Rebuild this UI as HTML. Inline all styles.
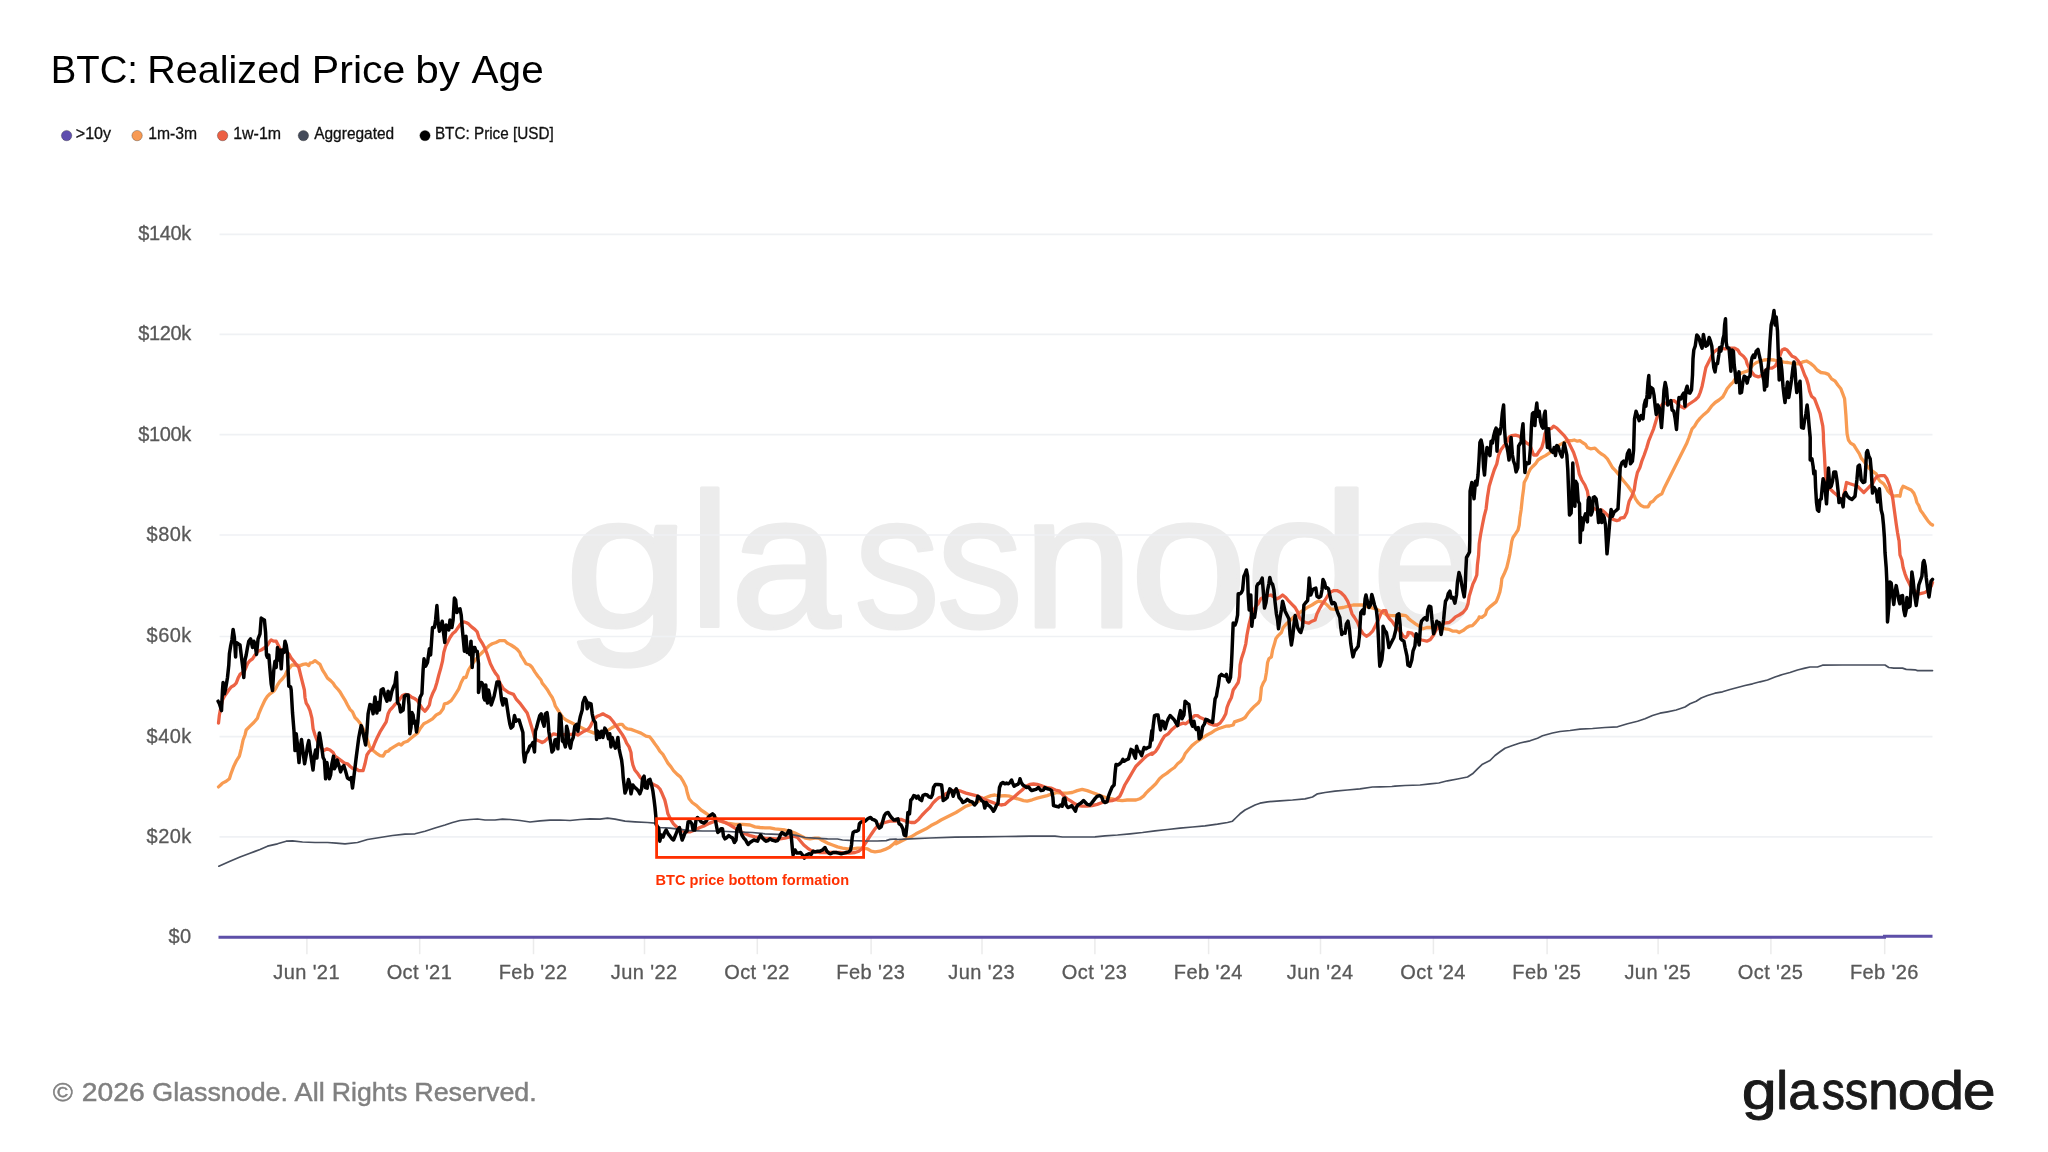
<!DOCTYPE html>
<html lang="en"><head><meta charset="utf-8"><title>BTC: Realized Price by Age</title>
<style>html,body{margin:0;padding:0;background:#fff;}body{width:2048px;height:1152px;overflow:hidden;}svg{display:block;will-change:transform;}</style></head>
<body>
<svg width="2048" height="1152" viewBox="0 0 2048 1152">
<rect width="2048" height="1152" fill="#ffffff"/>
<text y="627.00" font-family="'Liberation Sans',sans-serif" font-size="192.00" fill="#ececec" stroke="#ececec" stroke-width="3.20" stroke-linejoin="round"><tspan x="564.39" textLength="125.81" lengthAdjust="spacingAndGlyphs">g</tspan><tspan x="688.99" textLength="41.43" lengthAdjust="spacingAndGlyphs">l</tspan><tspan x="730.24" textLength="110.11" lengthAdjust="spacingAndGlyphs">a</tspan><tspan x="854.16" textLength="85.60" lengthAdjust="spacingAndGlyphs">s</tspan><tspan x="936.64" textLength="86.15" lengthAdjust="spacingAndGlyphs">s</tspan><tspan x="1022.64" textLength="111.17" lengthAdjust="spacingAndGlyphs">n</tspan><tspan x="1129.87" textLength="117.75" lengthAdjust="spacingAndGlyphs">o</tspan><tspan x="1244.78" textLength="127.48" lengthAdjust="spacingAndGlyphs">d</tspan><tspan x="1372.04" textLength="106.90" lengthAdjust="spacingAndGlyphs">e</tspan></text>
<line x1="219.5" x2="1932.5" y1="234.4" y2="234.4" stroke="#eff1f4" stroke-width="1.6"/>
<line x1="219.5" x2="1932.5" y1="334.4" y2="334.4" stroke="#eff1f4" stroke-width="1.6"/>
<line x1="219.5" x2="1932.5" y1="434.6" y2="434.6" stroke="#eff1f4" stroke-width="1.6"/>
<line x1="219.5" x2="1932.5" y1="535.0" y2="535.0" stroke="#eff1f4" stroke-width="1.6"/>
<line x1="219.5" x2="1932.5" y1="636.5" y2="636.5" stroke="#eff1f4" stroke-width="1.6"/>
<line x1="219.5" x2="1932.5" y1="736.6" y2="736.6" stroke="#eff1f4" stroke-width="1.6"/>
<line x1="219.5" x2="1932.5" y1="836.9" y2="836.9" stroke="#eff1f4" stroke-width="1.6"/>
<line x1="306.9" x2="306.9" y1="938" y2="954.2" stroke="#ebebeb" stroke-width="1.5"/>
<line x1="419.7" x2="419.7" y1="938" y2="954.2" stroke="#ebebeb" stroke-width="1.5"/>
<line x1="533.5" x2="533.5" y1="938" y2="954.2" stroke="#ebebeb" stroke-width="1.5"/>
<line x1="644.5" x2="644.5" y1="938" y2="954.2" stroke="#ebebeb" stroke-width="1.5"/>
<line x1="757.3" x2="757.3" y1="938" y2="954.2" stroke="#ebebeb" stroke-width="1.5"/>
<line x1="871.1" x2="871.1" y1="938" y2="954.2" stroke="#ebebeb" stroke-width="1.5"/>
<line x1="982.0" x2="982.0" y1="938" y2="954.2" stroke="#ebebeb" stroke-width="1.5"/>
<line x1="1094.9" x2="1094.9" y1="938" y2="954.2" stroke="#ebebeb" stroke-width="1.5"/>
<line x1="1208.6" x2="1208.6" y1="938" y2="954.2" stroke="#ebebeb" stroke-width="1.5"/>
<line x1="1320.5" x2="1320.5" y1="938" y2="954.2" stroke="#ebebeb" stroke-width="1.5"/>
<line x1="1433.4" x2="1433.4" y1="938" y2="954.2" stroke="#ebebeb" stroke-width="1.5"/>
<line x1="1547.1" x2="1547.1" y1="938" y2="954.2" stroke="#ebebeb" stroke-width="1.5"/>
<line x1="1658.1" x2="1658.1" y1="938" y2="954.2" stroke="#ebebeb" stroke-width="1.5"/>
<line x1="1770.9" x2="1770.9" y1="938" y2="954.2" stroke="#ebebeb" stroke-width="1.5"/>
<line x1="1884.7" x2="1884.7" y1="938" y2="954.2" stroke="#ebebeb" stroke-width="1.5"/>
<g font-family="'Liberation Sans',sans-serif" font-size="20" fill="#595959" stroke="#595959" stroke-width="0.3" text-anchor="end" letter-spacing="-0.4">
<text x="190.8" y="240.3" letter-spacing="-0.4">$140k</text>
<text x="190.8" y="340.3" letter-spacing="-0.4">$120k</text>
<text x="190.8" y="440.5" letter-spacing="-0.4">$100k</text>
<text x="191.6" y="540.9" letter-spacing="0.4">$80k</text>
<text x="191.6" y="642.4" letter-spacing="0.4">$60k</text>
<text x="191.6" y="742.5" letter-spacing="0.4">$40k</text>
<text x="191.6" y="842.8" letter-spacing="0.4">$20k</text>
<text x="191.6" y="943.1" letter-spacing="0.4">$0</text>
</g>
<g font-family="'Liberation Sans',sans-serif" font-size="20" fill="#595959" stroke="#595959" stroke-width="0.3" text-anchor="middle" letter-spacing="0.4">
<text x="306.6" y="979.2">Jun '21</text>
<text x="419.4" y="979.2">Oct '21</text>
<text x="533.2" y="979.2">Feb '22</text>
<text x="644.2" y="979.2">Jun '22</text>
<text x="757.0" y="979.2">Oct '22</text>
<text x="870.8" y="979.2">Feb '23</text>
<text x="981.7" y="979.2">Jun '23</text>
<text x="1094.6" y="979.2">Oct '23</text>
<text x="1208.3" y="979.2">Feb '24</text>
<text x="1320.2" y="979.2">Jun '24</text>
<text x="1433.1" y="979.2">Oct '24</text>
<text x="1546.8" y="979.2">Feb '25</text>
<text x="1657.8" y="979.2">Jun '25</text>
<text x="1770.6" y="979.2">Oct '25</text>
<text x="1884.4" y="979.2">Feb '26</text>
</g>
<path d="M218.5 937.3 H1884.5 V936.2 H1932.5" fill="none" stroke="#5d4fa8" stroke-width="3"/>
<path d="M218.5 786.9 L220.6 785.0 L222.5 783.1 L226.2 781.2 L229.4 778.8 L231.2 773.1 L233.8 766.2 L236.2 761.2 L239.4 756.2 L241.2 748.8 L243.1 740.0 L245.0 735.0 L246.2 730.0 L250.0 726.2 L253.8 722.5 L257.5 718.1 L258.8 713.8 L261.2 708.1 L263.8 702.5 L265.0 700.0 L267.5 696.2 L270.0 693.8 L273.8 691.2 L275.6 688.8 L277.5 685.0 L280.0 681.2 L282.5 678.8 L285.0 675.6 L286.9 671.2 L290.0 667.5 L291.9 665.0 L295.0 665.0 L300.0 665.6 L303.1 664.4 L306.2 663.8 L308.8 665.6 L310.0 663.1 L312.5 662.5 L315.0 660.6 L317.5 662.5 L320.0 664.4 L322.5 670.0 L325.0 673.8 L327.5 678.1 L330.6 680.6 L333.1 683.1 L335.0 686.2 L337.5 688.8 L340.0 691.9 L342.5 696.2 L345.6 701.2 L347.5 705.0 L350.0 709.4 L352.5 711.9 L355.0 717.5 L357.5 720.0 L360.0 723.1 L362.5 727.5 L365.0 732.5 L367.5 740.0 L369.4 746.2 L372.5 750.0 L376.2 753.1 L380.0 755.6 L383.1 756.2 L385.6 751.9 L388.1 751.2 L390.6 748.8 L395.0 746.2 L398.8 743.8 L401.2 745.0 L403.8 742.5 L407.5 741.2 L411.2 738.1 L415.0 735.0 L417.5 733.1 L420.0 728.8 L423.8 723.8 L427.5 721.9 L432.5 718.8 L436.2 715.0 L440.0 713.1 L443.1 708.8 L444.4 703.8 L447.5 703.1 L451.2 700.6 L453.8 696.9 L456.2 693.1 L458.8 688.8 L461.2 682.5 L463.8 677.5 L466.0 677.5 L468.5 670.0 L471.6 665.0 L474.8 660.6 L478.5 656.2 L482.2 652.5 L486.0 648.8 L489.1 645.6 L492.2 643.8 L496.0 642.5 L499.8 640.6 L504.8 640.6 L507.2 643.1 L511.0 645.0 L514.8 647.5 L517.2 649.4 L519.8 652.5 L521.0 655.6 L523.5 659.4 L526.0 663.8 L529.8 665.0 L532.2 667.5 L534.8 671.9 L537.9 676.2 L541.0 680.0 L542.2 683.1 L544.8 686.2 L547.2 689.4 L549.8 693.8 L552.2 697.5 L554.1 701.9 L555.4 706.2 L557.9 710.0 L560.4 713.8 L562.9 717.5 L566.0 720.0 L571.0 722.5 L576.0 725.0 L581.0 727.5 L586.0 730.0 L591.0 731.9 L594.1 733.1 L601.0 732.5 L608.5 730.0 L612.2 727.5 L616.0 725.6 L619.8 724.4 L622.2 724.4 L624.8 727.5 L627.2 728.8 L631.0 729.4 L636.0 731.2 L641.0 733.1 L646.0 736.2 L649.8 736.9 L652.2 740.0 L654.8 743.8 L657.2 746.9 L659.8 751.2 L662.9 754.4 L665.4 758.8 L667.9 763.1 L671.0 766.9 L673.5 770.6 L677.2 774.4 L680.4 776.9 L683.5 781.9 L686.0 786.9 L687.2 792.5 L689.1 798.8 L692.2 802.5 L696.6 805.6 L701.0 810.0 L704.8 812.5 L708.5 815.0 L711.6 815.6 L714.8 816.9 L720.0 821.2 L727.5 823.1 L735.0 824.4 L742.5 824.4 L750.0 825.0 L755.0 826.9 L760.0 827.5 L765.0 827.8 L770.0 827.8 L775.0 828.8 L780.0 829.4 L785.0 830.0 L790.0 831.2 L795.0 833.1 L800.0 835.6 L805.0 838.1 L810.0 838.8 L815.0 838.1 L818.8 838.1 L822.5 840.6 L827.5 843.1 L832.5 845.0 L837.5 846.9 L842.5 848.1 L847.5 848.8 L852.5 848.8 L857.5 848.1 L862.5 848.1 L867.5 848.8 L871.2 851.2 L875.0 851.9 L880.0 851.2 L885.0 849.4 L890.0 846.9 L893.8 843.8 L896.0 841.2 L896.0 843.8 L901.0 841.2 L906.0 838.8 L911.0 836.9 L916.0 833.8 L921.0 831.2 L926.0 828.8 L931.0 825.6 L936.0 823.1 L941.0 820.0 L946.0 817.5 L951.0 815.0 L956.0 812.5 L961.0 809.4 L966.0 806.2 L971.0 804.4 L976.0 802.5 L981.0 800.0 L986.0 797.5 L991.0 795.6 L994.8 795.0 L999.8 796.0 L1004.8 795.6 L1009.8 796.2 L1014.8 798.1 L1019.8 799.4 L1023.5 800.6 L1027.2 801.2 L1032.2 799.8 L1037.2 798.1 L1042.2 796.9 L1047.2 795.6 L1052.2 793.8 L1057.2 792.5 L1062.2 793.1 L1067.2 793.1 L1072.2 792.5 L1077.2 790.6 L1082.2 789.4 L1087.2 790.6 L1092.2 792.5 L1097.2 794.4 L1102.2 796.2 L1107.2 798.1 L1112.2 798.8 L1117.2 800.0 L1122.2 800.6 L1127.2 800.0 L1132.2 799.8 L1136.0 800.0 L1139.8 798.8 L1143.5 796.2 L1146.0 793.1 L1149.1 790.0 L1151.9 787.5 L1155.8 783.8 L1159.5 778.8 L1163.2 775.6 L1167.0 773.1 L1170.8 770.0 L1174.5 767.5 L1177.6 763.8 L1180.8 761.2 L1183.2 758.1 L1185.1 753.8 L1188.2 750.0 L1192.0 745.6 L1195.8 742.5 L1199.5 740.0 L1203.2 737.5 L1207.0 735.0 L1210.8 733.1 L1214.5 730.6 L1218.2 728.8 L1222.0 727.5 L1225.8 726.2 L1229.5 726.0 L1233.2 725.0 L1234.5 721.9 L1238.2 720.6 L1242.0 719.4 L1245.1 717.5 L1247.6 713.8 L1250.8 710.0 L1254.5 706.2 L1258.2 703.1 L1260.1 700.0 L1260.8 693.8 L1261.4 687.5 L1263.2 683.1 L1265.1 680.0 L1266.4 672.5 L1267.6 662.5 L1268.9 658.8 L1271.4 656.9 L1272.6 650.0 L1274.5 643.8 L1275.8 638.8 L1278.2 635.6 L1281.4 632.5 L1283.2 627.5 L1286.4 623.8 L1289.5 621.2 L1293.2 617.5 L1297.0 615.0 L1300.8 611.9 L1304.5 609.4 L1308.2 606.9 L1312.0 605.0 L1315.8 602.5 L1318.2 601.2 L1322.0 601.9 L1325.8 603.8 L1328.2 606.2 L1330.8 608.8 L1334.5 609.4 L1338.2 608.1 L1343.2 607.5 L1348.2 606.2 L1353.2 605.0 L1358.2 605.0 L1363.2 605.0 L1368.2 606.9 L1373.2 608.1 L1378.2 610.0 L1383.2 612.5 L1387.0 615.0 L1390.8 615.6 L1395.8 615.6 L1400.8 615.0 L1405.8 615.6 L1407.9 617.5 L1408.0 618.1 L1411.8 621.2 L1415.5 623.8 L1419.2 626.2 L1423.0 628.8 L1426.8 627.5 L1431.8 627.5 L1436.8 628.1 L1441.8 628.1 L1445.5 628.8 L1449.2 629.4 L1453.0 631.2 L1456.8 631.2 L1459.2 632.5 L1463.0 630.6 L1466.8 627.5 L1469.2 626.2 L1472.4 625.6 L1475.5 622.5 L1478.6 618.8 L1479.2 616.9 L1481.8 617.5 L1485.5 614.4 L1486.8 610.0 L1489.9 606.9 L1493.0 604.4 L1496.1 601.9 L1498.0 597.5 L1499.9 591.9 L1501.1 585.6 L1501.8 578.8 L1504.2 573.8 L1506.8 567.5 L1508.6 560.0 L1509.9 553.8 L1511.8 541.2 L1513.0 537.5 L1515.5 533.8 L1518.0 530.0 L1519.2 525.0 L1519.9 517.5 L1521.1 510.0 L1522.4 497.5 L1523.6 488.8 L1524.2 482.5 L1526.8 477.5 L1528.6 472.5 L1530.5 468.8 L1533.0 466.2 L1535.5 463.8 L1538.0 460.0 L1541.8 457.5 L1545.5 455.6 L1549.2 453.1 L1553.0 450.0 L1556.8 446.9 L1560.5 444.4 L1564.2 442.5 L1568.0 440.6 L1571.8 440.6 L1574.2 440.0 L1577.4 441.2 L1579.9 440.6 L1582.4 442.5 L1585.5 444.4 L1587.4 447.5 L1590.5 448.8 L1594.9 448.1 L1598.0 451.2 L1601.1 453.8 L1604.2 455.6 L1607.4 458.8 L1609.9 463.1 L1612.4 467.5 L1615.5 470.6 L1618.6 474.4 L1621.8 478.8 L1624.9 482.5 L1628.0 486.2 L1631.1 490.6 L1633.6 494.4 L1635.5 498.8 L1638.0 502.5 L1641.1 505.6 L1644.2 506.9 L1648.0 506.9 L1650.5 502.5 L1653.0 501.2 L1656.1 497.5 L1658.6 495.6 L1661.8 493.8 L1663.9 488.8 L1686.5 443.8 L1689.0 437.5 L1692.1 428.8 L1694.6 426.2 L1697.1 421.9 L1700.2 418.1 L1704.0 414.4 L1707.8 411.2 L1711.5 406.2 L1715.2 402.5 L1719.0 400.0 L1722.8 396.9 L1725.2 392.5 L1727.1 388.8 L1730.2 385.0 L1733.4 381.9 L1735.9 377.5 L1739.0 374.4 L1742.8 372.5 L1747.1 371.2 L1750.2 368.8 L1752.8 365.0 L1756.5 362.5 L1760.2 361.2 L1764.0 360.0 L1769.0 359.6 L1774.0 360.0 L1779.0 361.2 L1784.0 362.2 L1787.8 362.5 L1792.8 363.5 L1799.0 363.8 L1802.8 361.9 L1806.5 361.0 L1810.2 363.1 L1814.0 366.2 L1817.1 370.0 L1820.9 372.5 L1825.2 373.1 L1828.4 374.4 L1831.5 378.8 L1835.2 381.2 L1837.8 385.0 L1840.9 388.8 L1842.8 393.8 L1844.6 398.8 L1845.2 406.2 L1845.9 415.0 L1846.5 425.0 L1847.1 433.8 L1848.4 440.0 L1850.6 443.1 L1853.8 445.0 L1856.2 448.8 L1859.4 453.8 L1861.2 458.1 L1863.8 461.2 L1866.2 464.4 L1868.8 468.1 L1872.5 471.2 L1876.2 473.8 L1877.5 477.5 L1880.0 481.2 L1883.8 483.8 L1886.2 487.5 L1888.1 491.2 L1890.6 493.8 L1893.8 496.2 L1897.5 495.6 L1900.0 496.2 L1901.2 490.0 L1903.1 486.2 L1906.9 488.1 L1911.2 490.0 L1913.8 493.1 L1915.6 497.5 L1916.9 502.5 L1918.8 505.6 L1920.6 510.6 L1923.1 513.8 L1925.6 517.5 L1928.1 521.2 L1930.6 523.8 L1932.5 525.0" fill="none" stroke="#f89b52" stroke-width="3.3" stroke-linejoin="round" stroke-linecap="round"/>
<path d="M218.5 723.1 L219.4 715.0 L220.6 708.8 L222.5 700.0 L224.4 696.2 L226.2 693.8 L228.8 690.0 L231.2 686.9 L233.8 685.6 L236.2 683.1 L238.1 678.1 L240.0 674.4 L242.5 672.5 L245.0 670.0 L247.5 663.8 L250.0 660.6 L252.5 658.8 L255.0 655.0 L258.1 651.2 L261.2 650.0 L265.0 647.5 L267.5 645.0 L270.0 641.2 L271.2 640.0 L273.8 641.2 L276.2 641.2 L278.1 645.0 L280.0 648.8 L285.0 651.2 L288.8 653.8 L291.2 658.1 L293.8 661.2 L296.2 664.4 L298.8 667.5 L300.6 675.0 L302.5 682.5 L304.4 690.0 L305.0 697.5 L306.2 703.1 L308.1 706.2 L310.0 710.6 L311.9 718.1 L313.1 728.8 L315.0 735.0 L316.9 740.0 L320.0 746.2 L323.8 750.6 L326.9 748.8 L330.0 750.0 L333.1 752.5 L335.0 756.2 L338.8 758.8 L341.2 760.6 L344.4 763.1 L347.5 763.8 L350.0 766.2 L353.1 768.8 L356.2 768.8 L358.8 770.6 L363.1 770.6 L365.0 763.8 L366.9 755.0 L369.4 751.2 L372.5 748.8 L375.0 742.5 L377.5 736.9 L380.0 731.9 L383.1 726.9 L386.2 721.9 L388.1 713.8 L390.0 710.0 L392.5 707.5 L395.0 704.4 L397.5 702.5 L400.0 698.8 L402.5 695.6 L405.0 694.4 L408.8 695.0 L411.2 696.9 L415.0 698.8 L417.5 700.6 L420.0 705.0 L422.5 708.8 L425.0 711.2 L427.5 708.1 L429.4 705.0 L430.6 698.8 L432.5 693.8 L435.0 688.8 L436.9 682.5 L438.8 675.0 L440.6 668.8 L442.5 661.2 L443.8 652.5 L445.6 646.2 L447.5 642.5 L450.0 637.5 L452.5 633.8 L455.6 631.2 L458.1 627.5 L460.6 623.8 L463.8 621.9 L466.0 622.5 L468.5 623.8 L471.6 626.9 L474.8 629.4 L477.2 631.9 L479.1 638.1 L482.2 643.1 L484.8 648.1 L486.6 652.5 L488.5 658.1 L490.4 663.8 L492.9 668.8 L495.4 673.1 L497.9 676.2 L499.1 681.2 L501.0 685.0 L503.5 688.8 L508.5 692.5 L513.5 694.4 L516.0 698.8 L519.8 703.1 L523.5 708.1 L527.2 713.1 L529.1 718.8 L531.0 725.0 L532.9 731.2 L534.5 737.5 L536.6 740.0 L539.8 741.2 L542.2 742.5 L544.8 741.2 L547.2 738.8 L550.4 736.2 L553.5 733.8 L556.0 734.4 L561.0 735.0 L566.0 734.4 L571.0 734.4 L576.0 733.8 L577.9 735.0 L581.0 733.1 L584.1 731.2 L587.9 729.4 L590.4 726.2 L592.2 722.5 L594.8 718.1 L597.2 716.2 L600.4 715.0 L602.9 713.8 L606.0 715.6 L609.8 717.5 L612.9 721.2 L616.0 725.6 L619.1 730.0 L622.2 734.4 L624.8 738.8 L626.6 743.1 L629.1 746.9 L631.0 752.5 L631.6 758.8 L632.9 765.0 L634.8 770.0 L637.9 773.8 L640.4 777.5 L643.5 780.0 L646.0 782.5 L649.8 783.1 L653.5 784.4 L657.2 786.2 L659.8 788.8 L662.2 793.8 L664.8 800.0 L666.6 807.5 L667.9 813.8 L670.4 818.8 L673.5 823.8 L677.2 827.5 L681.0 830.0 L684.8 831.9 L689.8 831.9 L694.8 830.0 L699.8 827.5 L704.8 825.6 L709.8 823.1 L714.8 821.2 L719.8 820.0 L720.0 820.6 L725.0 822.5 L730.0 825.0 L735.0 828.1 L740.0 831.2 L745.0 833.8 L750.0 835.6 L755.0 836.9 L760.0 837.5 L765.0 838.1 L770.0 838.5 L775.0 838.8 L780.0 838.8 L785.0 838.1 L790.0 836.9 L793.8 836.2 L797.5 837.5 L800.6 841.2 L803.8 845.0 L807.5 848.1 L811.2 850.6 L815.0 851.9 L820.0 852.5 L825.0 852.5 L830.0 852.5 L835.0 852.5 L840.0 852.5 L845.0 853.1 L850.0 853.1 L855.0 852.5 L858.8 851.2 L861.9 848.8 L865.0 843.8 L867.5 840.0 L870.0 836.2 L872.5 832.5 L875.0 828.8 L877.5 826.2 L881.2 823.8 L885.0 822.5 L890.0 821.2 L896.0 821.2 L896.0 819.4 L901.0 819.4 L906.0 821.2 L911.0 822.5 L914.8 822.5 L918.5 819.4 L922.2 815.0 L926.0 811.2 L929.8 807.5 L932.9 803.1 L936.0 800.0 L939.1 797.5 L942.2 796.9 L946.0 793.8 L951.0 791.2 L956.0 790.0 L961.0 791.2 L966.0 793.1 L971.0 794.4 L976.0 795.6 L981.0 797.5 L986.0 800.0 L991.0 801.9 L996.0 803.8 L1001.0 805.0 L1004.8 804.4 L1008.5 801.2 L1013.5 797.5 L1018.5 793.1 L1022.2 790.0 L1026.0 786.2 L1029.8 784.4 L1033.5 784.0 L1037.2 784.4 L1041.0 785.6 L1046.0 787.5 L1051.0 788.1 L1055.4 790.0 L1059.8 791.2 L1063.5 795.6 L1067.2 798.8 L1071.0 801.2 L1074.8 803.8 L1078.5 805.6 L1082.2 806.2 L1087.2 806.2 L1092.2 805.6 L1097.2 804.4 L1102.2 802.5 L1107.2 801.2 L1112.2 800.6 L1116.0 799.4 L1119.8 796.2 L1122.2 791.2 L1124.8 785.0 L1128.5 778.8 L1132.2 772.5 L1136.0 766.2 L1139.8 762.5 L1143.5 758.8 L1147.2 755.6 L1151.9 753.1 L1152.0 754.4 L1155.8 751.2 L1158.2 747.5 L1161.4 741.2 L1164.5 736.2 L1168.2 733.8 L1172.0 729.4 L1175.8 726.2 L1179.5 724.4 L1183.2 723.1 L1185.8 723.8 L1188.9 721.2 L1191.4 718.8 L1194.5 715.6 L1197.6 715.6 L1200.1 717.5 L1203.2 718.8 L1206.4 721.2 L1209.5 723.8 L1213.2 725.0 L1217.0 725.0 L1220.1 723.1 L1223.2 718.8 L1225.8 713.8 L1227.0 707.5 L1228.9 702.5 L1231.4 697.5 L1233.2 690.0 L1235.8 686.2 L1238.2 682.5 L1239.5 676.2 L1240.1 665.0 L1241.4 658.8 L1243.9 651.2 L1245.8 643.8 L1247.0 635.0 L1248.9 625.0 L1250.8 617.5 L1253.2 611.2 L1255.8 606.2 L1258.2 603.8 L1260.8 598.8 L1265.8 596.2 L1270.8 595.0 L1277.0 598.8 L1279.5 597.5 L1282.6 595.0 L1285.8 597.5 L1288.9 601.2 L1292.0 604.4 L1295.1 607.5 L1297.6 611.9 L1299.5 617.5 L1302.6 621.2 L1305.8 622.5 L1308.9 623.1 L1312.0 621.2 L1315.1 620.0 L1317.0 613.8 L1319.5 608.8 L1322.0 604.4 L1325.1 600.0 L1328.2 595.0 L1330.8 591.9 L1333.9 590.6 L1337.0 590.6 L1340.8 592.5 L1344.5 596.2 L1347.6 601.2 L1350.1 607.5 L1352.0 613.8 L1354.5 617.5 L1357.6 622.5 L1360.1 628.8 L1363.2 633.8 L1366.4 636.2 L1369.5 634.4 L1372.6 631.2 L1375.8 625.0 L1378.2 620.0 L1380.8 613.8 L1383.2 610.6 L1385.8 610.6 L1387.0 615.0 L1389.5 618.8 L1392.0 621.2 L1394.5 625.0 L1398.2 628.8 L1400.8 632.5 L1403.2 636.2 L1405.8 637.5 L1407.9 635.0 L1408.0 632.5 L1411.8 633.1 L1414.2 636.2 L1418.0 638.8 L1421.8 640.0 L1426.8 641.2 L1430.5 639.4 L1433.6 635.0 L1436.1 630.0 L1439.2 626.2 L1444.2 623.1 L1449.2 622.5 L1452.4 620.0 L1455.5 616.9 L1459.2 615.0 L1463.0 612.5 L1466.1 608.8 L1468.0 603.8 L1469.2 596.2 L1471.1 590.0 L1473.0 583.8 L1474.9 580.0 L1476.8 575.0 L1477.4 565.0 L1478.6 555.0 L1479.2 543.8 L1480.5 535.0 L1482.4 525.0 L1484.2 516.2 L1486.1 508.8 L1487.4 497.5 L1489.2 486.2 L1491.8 477.5 L1494.2 470.0 L1496.8 463.8 L1498.6 455.0 L1501.1 449.4 L1503.6 446.2 L1506.8 442.5 L1509.2 436.9 L1511.8 435.6 L1515.5 435.2 L1519.2 436.2 L1523.0 440.0 L1526.8 443.1 L1529.9 445.0 L1531.8 450.0 L1533.6 455.0 L1536.8 455.0 L1539.2 451.2 L1541.8 447.5 L1543.6 441.2 L1544.9 433.8 L1546.8 430.0 L1551.8 428.1 L1553.6 426.2 L1556.8 428.1 L1560.5 431.9 L1564.2 435.6 L1567.4 440.0 L1570.5 446.2 L1573.6 452.5 L1576.1 460.0 L1578.0 467.5 L1579.2 473.8 L1581.8 480.0 L1584.9 485.0 L1587.4 491.2 L1588.6 498.8 L1590.5 505.0 L1594.2 508.8 L1598.0 510.0 L1601.8 510.0 L1605.5 513.1 L1609.2 516.9 L1613.0 519.4 L1616.8 520.6 L1619.2 520.0 L1620.5 518.1 L1624.2 517.5 L1626.8 512.5 L1628.0 506.2 L1629.2 501.2 L1631.8 496.2 L1634.2 490.0 L1635.5 481.2 L1637.4 472.5 L1639.9 467.5 L1641.8 461.2 L1644.2 455.0 L1646.8 447.5 L1648.6 441.2 L1651.1 435.0 L1653.6 428.8 L1655.5 422.5 L1657.4 416.2 L1659.2 410.0 L1661.8 405.0 L1663.9 402.5 L1666.5 403.8 L1670.2 401.2 L1674.0 400.6 L1676.5 402.5 L1680.2 406.2 L1684.0 408.1 L1687.8 405.0 L1691.5 402.5 L1695.2 400.0 L1698.4 396.9 L1700.2 392.5 L1702.1 386.2 L1703.4 380.0 L1704.6 373.8 L1705.9 367.5 L1708.4 362.5 L1710.9 357.5 L1713.4 352.5 L1716.5 350.0 L1720.2 348.1 L1725.2 348.8 L1730.2 348.1 L1734.6 348.1 L1737.8 350.0 L1740.2 353.8 L1743.4 356.2 L1745.9 359.4 L1747.1 363.8 L1749.0 367.5 L1751.5 371.9 L1754.6 375.6 L1758.4 376.9 L1761.5 375.6 L1764.0 371.9 L1767.8 368.1 L1772.1 368.1 L1775.2 366.2 L1777.8 361.2 L1780.2 355.0 L1782.1 350.0 L1784.6 348.8 L1787.1 350.0 L1789.6 353.1 L1792.1 356.2 L1795.2 357.5 L1798.4 361.2 L1800.9 365.0 L1802.8 370.0 L1804.6 375.0 L1806.5 378.8 L1808.4 385.0 L1809.6 391.2 L1811.5 396.2 L1814.6 398.8 L1816.5 403.8 L1818.4 408.8 L1820.2 413.8 L1821.5 420.0 L1822.8 426.2 L1823.4 433.8 L1823.5 441.2 L1824.4 453.8 L1825.0 466.2 L1825.6 476.2 L1826.2 482.5 L1828.8 487.5 L1831.2 490.0 L1833.8 492.5 L1836.9 495.0 L1840.0 498.8 L1842.5 500.0 L1845.0 490.0 L1846.5 482.5 L1850.0 483.8 L1853.8 485.0 L1857.5 486.2 L1860.6 489.4 L1863.8 492.5 L1866.9 489.4 L1870.0 486.2 L1872.5 483.8 L1875.0 478.8 L1877.5 476.2 L1881.2 475.6 L1884.4 475.6 L1886.9 478.8 L1889.4 485.0 L1891.2 491.2 L1892.8 498.8 L1893.8 506.2 L1895.0 515.0 L1896.2 523.8 L1897.5 532.5 L1898.8 540.0 L1899.0 540.0 L1900.0 555.0 L1901.9 560.0 L1903.1 567.5 L1905.0 573.8 L1906.9 578.8 L1908.8 582.5 L1910.6 586.2 L1915.0 591.2 L1919.4 593.8 L1922.5 593.1 L1925.0 592.5 L1926.9 591.2 L1931.2 586.2 L1932.5 582.5" fill="none" stroke="#ec6244" stroke-width="3.3" stroke-linejoin="round" stroke-linecap="round"/>
<path d="M218.8 866.2 L230.0 861.2 L240.0 857.0 L250.0 853.2 L260.0 849.5 L267.5 846.2 L277.5 843.8 L286.2 841.2 L292.5 840.8 L302.5 842.0 L315.0 842.5 L327.5 842.5 L336.2 843.2 L345.0 843.8 L357.5 842.5 L367.5 839.5 L380.0 837.5 L392.5 835.5 L405.0 834.2 L415.0 833.8 L425.0 831.2 L435.0 828.0 L445.0 825.0 L452.5 822.5 L460.0 820.5 L470.0 819.5 L477.5 819.0 L485.0 820.0 L495.0 820.0 L502.5 819.2 L510.0 819.5 L520.0 820.5 L530.0 822.0 L540.0 820.8 L550.0 820.2 L560.0 820.0 L570.0 820.5 L580.0 819.5 L590.0 818.8 L600.0 819.2 L607.5 818.2 L615.0 819.2 L625.0 821.2 L635.0 821.8 L647.5 822.5 L655.0 823.2 L655.6 825.0 L660.0 827.5 L670.0 828.1 L680.0 829.4 L690.0 830.6 L702.5 831.0 L715.0 831.0 L727.5 831.5 L740.0 832.1 L752.5 832.5 L765.0 833.8 L777.5 834.4 L790.0 834.4 L797.5 835.6 L805.0 837.5 L815.0 838.1 L827.5 838.8 L837.5 839.0 L842.5 840.0 L852.5 840.6 L865.0 841.0 L877.5 841.0 L886.2 840.6 L890.0 839.4 L895.9 839.0 L897.5 839.5 L910.0 838.8 L930.0 838.0 L955.0 837.2 L980.0 836.8 L1005.0 836.5 L1030.0 836.2 L1055.0 836.2 L1062.5 837.0 L1080.0 837.0 L1095.0 836.8 L1105.0 835.8 L1117.5 835.0 L1130.0 833.8 L1142.5 832.5 L1155.0 830.8 L1167.5 829.5 L1180.0 828.2 L1192.5 827.0 L1205.0 825.8 L1217.5 824.2 L1227.5 822.5 L1232.5 821.2 L1236.2 817.5 L1240.0 813.8 L1245.0 810.0 L1250.0 807.5 L1255.0 805.0 L1260.0 803.2 L1267.5 801.8 L1280.0 800.8 L1292.5 800.0 L1305.0 798.8 L1312.5 797.0 L1317.5 793.8 L1325.0 792.5 L1335.0 791.2 L1347.5 790.0 L1360.0 788.8 L1372.5 787.0 L1380.0 786.8 L1391.8 786.5 L1395.0 786.2 L1405.0 785.5 L1420.0 785.0 L1430.0 783.8 L1438.8 783.0 L1447.5 780.8 L1457.5 779.0 L1467.5 777.0 L1472.5 773.8 L1477.5 768.8 L1482.5 764.2 L1490.0 760.5 L1495.0 755.5 L1500.0 751.8 L1505.0 748.2 L1512.5 745.5 L1520.0 743.0 L1530.0 740.8 L1537.5 738.2 L1542.5 735.8 L1552.5 733.0 L1560.0 731.5 L1570.0 730.5 L1580.0 729.2 L1592.5 728.5 L1605.0 727.5 L1617.5 726.8 L1627.5 723.8 L1637.5 721.2 L1645.0 718.8 L1652.5 715.5 L1660.0 713.2 L1667.5 711.8 L1676.2 710.0 L1685.0 707.0 L1690.0 703.8 L1696.2 701.2 L1701.2 698.0 L1707.5 695.5 L1715.0 693.2 L1722.5 691.8 L1730.0 689.5 L1737.5 687.5 L1745.0 685.5 L1752.5 683.8 L1760.0 681.8 L1767.5 680.0 L1775.0 677.0 L1782.5 674.5 L1790.0 672.5 L1797.5 670.0 L1805.0 668.2 L1810.0 667.0 L1817.5 667.0 L1822.5 665.2 L1842.5 665.0 L1867.5 665.0 L1885.0 665.0 L1888.8 667.5 L1893.8 668.1 L1902.5 668.1 L1906.2 669.4 L1915.0 669.8 L1917.5 670.6 L1932.5 670.6" fill="none" stroke="#474e5d" stroke-width="1.7" stroke-linejoin="round" stroke-linecap="round"/>
<path d="M218.1 701.2 L219.4 703.8 L220.6 707.5 L221.5 710.6 L222.5 690.0 L223.1 682.5 L224.4 693.8 L225.6 688.8 L227.5 677.5 L228.8 665.0 L229.4 653.8 L230.6 646.2 L231.9 640.0 L233.1 629.4 L234.4 637.5 L235.6 656.9 L236.2 642.5 L238.1 643.8 L240.0 645.0 L241.2 655.0 L242.8 667.5 L243.8 677.5 L245.0 660.0 L246.2 655.0 L247.5 647.5 L248.8 641.2 L250.6 638.8 L252.5 647.5 L253.8 641.2 L255.0 643.8 L256.5 654.4 L258.1 638.8 L260.0 633.8 L261.2 618.1 L263.1 619.4 L264.4 620.0 L265.6 632.5 L266.5 655.0 L267.5 657.5 L268.8 655.0 L270.0 670.0 L271.2 683.8 L272.5 690.6 L273.8 670.0 L275.0 661.2 L276.2 667.5 L277.5 647.5 L278.8 660.0 L280.0 650.0 L281.2 668.8 L282.5 650.0 L283.8 652.5 L285.0 641.2 L286.2 645.0 L287.5 653.8 L288.1 670.0 L288.8 686.2 L290.6 686.9 L291.2 690.0 L292.5 712.5 L294.0 731.2 L295.0 750.6 L296.2 733.8 L297.5 745.0 L299.0 762.5 L300.2 748.8 L301.5 739.4 L303.1 752.5 L304.6 763.8 L306.2 755.0 L307.5 746.2 L308.8 740.6 L310.0 750.0 L311.5 760.0 L313.0 770.0 L314.4 756.2 L315.6 750.0 L316.9 758.1 L318.1 742.5 L319.4 733.1 L320.6 740.0 L321.9 748.8 L323.1 757.5 L324.4 760.0 L325.6 778.8 L326.9 762.5 L328.1 770.0 L329.4 778.8 L330.6 775.0 L331.9 763.8 L333.5 756.2 L334.4 768.8 L335.6 766.2 L337.2 760.0 L338.8 765.0 L340.6 771.9 L342.2 767.5 L343.8 765.6 L345.6 771.2 L347.5 778.1 L349.4 779.4 L351.2 777.5 L352.5 788.1 L353.8 777.5 L355.0 767.5 L356.2 757.5 L357.5 747.5 L358.8 737.5 L360.0 731.2 L361.2 725.6 L362.5 730.0 L364.0 737.5 L365.6 745.0 L366.9 732.5 L368.1 713.8 L370.0 704.4 L371.9 705.6 L373.1 713.8 L375.0 696.9 L376.9 713.1 L378.1 702.5 L379.4 710.0 L381.2 690.0 L383.1 688.8 L385.0 696.2 L386.9 701.2 L388.1 691.2 L390.0 700.0 L391.9 691.2 L393.8 686.2 L395.0 683.8 L396.5 672.5 L397.5 702.5 L399.4 705.0 L400.6 711.9 L403.1 710.0 L404.4 696.2 L406.2 695.0 L408.1 695.0 L409.0 705.0 L409.8 733.8 L411.0 727.5 L411.9 712.5 L413.1 715.0 L414.0 723.1 L415.2 721.2 L416.5 731.9 L417.8 722.5 L419.0 706.2 L420.0 697.5 L421.9 693.8 L423.1 670.0 L424.0 658.8 L425.6 666.2 L427.5 662.5 L429.4 648.8 L430.6 655.0 L432.5 627.5 L434.4 627.5 L435.6 620.0 L436.9 605.6 L438.1 622.5 L439.4 631.2 L440.6 627.5 L442.2 621.2 L443.5 632.5 L444.8 642.5 L446.0 625.0 L447.5 627.5 L448.8 630.0 L450.0 620.0 L451.9 627.5 L453.1 620.0 L454.4 598.1 L455.6 600.0 L456.9 612.5 L458.1 609.4 L460.0 608.8 L461.2 615.0 L462.5 631.2 L464.4 651.2 L466.0 636.2 L467.2 652.5 L468.5 650.0 L469.8 654.4 L471.0 641.2 L472.2 667.5 L473.5 647.5 L474.8 647.5 L476.0 651.2 L477.2 651.2 L478.5 663.8 L478.5 692.5 L480.0 683.1 L481.6 682.5 L482.9 684.4 L483.8 697.5 L484.8 700.0 L485.8 685.0 L486.6 698.8 L487.5 703.1 L488.5 690.0 L489.8 696.2 L491.2 705.0 L492.9 700.0 L494.1 696.2 L495.4 690.0 L497.0 681.9 L499.1 681.9 L500.4 690.0 L501.6 700.0 L502.9 705.0 L504.1 698.8 L506.0 699.4 L507.2 707.5 L508.5 716.2 L509.8 723.8 L511.0 728.1 L512.9 726.2 L514.5 715.6 L516.0 721.2 L517.5 720.0 L519.1 720.0 L521.0 726.2 L522.9 732.5 L523.5 752.5 L524.5 761.9 L526.0 753.8 L527.9 751.2 L529.8 746.2 L531.6 745.0 L532.9 742.5 L534.5 751.9 L535.4 731.2 L536.6 727.5 L538.2 721.2 L539.8 715.6 L541.2 713.8 L542.5 721.2 L544.1 726.2 L545.4 713.8 L547.0 712.5 L547.9 718.8 L548.8 731.2 L550.0 738.8 L551.0 745.0 L552.0 751.9 L553.5 750.0 L555.0 740.0 L556.6 739.4 L557.9 748.8 L558.8 732.5 L559.5 713.8 L560.8 716.2 L561.6 727.5 L562.5 741.2 L564.1 742.5 L565.4 746.9 L566.6 726.2 L567.9 731.2 L569.1 743.8 L570.4 748.1 L571.6 741.2 L573.2 737.5 L574.8 726.2 L576.6 724.4 L577.9 731.2 L579.1 722.5 L580.4 716.2 L582.2 710.0 L582.9 702.5 L584.8 697.5 L586.6 701.2 L587.2 708.8 L589.1 703.1 L591.0 703.8 L592.2 713.8 L593.5 720.0 L595.4 722.5 L596.6 739.4 L597.9 731.2 L599.8 737.5 L601.6 731.2 L602.9 737.5 L604.8 728.1 L606.6 731.2 L608.5 738.8 L609.8 733.8 L611.0 746.9 L612.2 737.5 L613.5 742.5 L615.4 748.1 L616.6 743.8 L617.9 737.5 L619.1 748.8 L620.4 755.0 L621.6 760.0 L622.5 767.5 L623.2 777.5 L624.1 785.0 L625.0 793.1 L626.6 788.8 L628.5 779.4 L629.8 783.8 L631.0 793.8 L632.9 785.0 L634.8 787.5 L636.6 788.8 L638.5 791.2 L639.8 793.8 L641.6 788.8 L642.5 778.8 L644.1 776.2 L645.4 787.5 L647.2 788.1 L648.5 780.0 L650.0 779.4 L651.6 785.0 L652.9 791.2 L654.1 800.0 L655.0 807.5 L655.8 816.2 L656.2 824.4 L657.2 826.2 L658.8 828.8 L659.8 841.2 L661.2 835.0 L663.1 836.9 L664.4 833.1 L666.2 830.0 L668.1 833.8 L670.0 836.2 L671.9 838.8 L673.5 840.0 L675.6 835.0 L677.5 830.0 L679.4 827.5 L680.6 833.8 L682.2 840.0 L683.8 836.2 L685.2 832.5 L686.9 831.2 L688.1 821.9 L690.0 821.2 L691.9 823.8 L693.1 830.0 L694.8 830.0 L696.0 820.0 L697.5 817.5 L699.4 819.4 L701.2 821.9 L703.8 823.1 L706.2 821.2 L708.1 817.5 L710.0 815.6 L712.5 813.8 L714.4 815.6 L715.6 821.2 L716.9 828.1 L717.8 832.5 L719.4 831.2 L721.0 828.8 L722.5 828.8 L723.5 836.2 L725.0 838.8 L726.9 837.5 L728.8 835.6 L730.6 836.9 L732.5 838.1 L734.4 842.5 L736.0 840.0 L736.9 830.0 L738.8 825.6 L739.8 825.0 L740.6 831.2 L741.9 835.0 L743.8 838.1 L745.6 840.0 L746.9 842.5 L748.1 844.4 L750.0 842.5 L751.9 841.2 L753.8 840.0 L755.6 840.6 L757.5 841.2 L758.8 838.1 L760.6 835.0 L762.5 838.1 L764.4 840.0 L766.2 841.2 L768.1 840.6 L770.0 838.8 L771.9 840.0 L773.8 840.6 L775.6 841.2 L777.5 840.6 L779.4 837.5 L780.6 834.4 L781.9 832.5 L783.8 833.8 L785.6 835.0 L787.5 833.1 L788.8 830.6 L790.6 831.2 L791.5 838.8 L792.5 850.0 L793.1 855.0 L795.0 850.0 L796.9 853.1 L798.8 853.1 L800.6 852.5 L802.5 855.0 L804.4 858.1 L806.2 855.0 L808.8 853.8 L811.2 854.4 L813.1 851.2 L815.0 851.9 L817.5 851.2 L820.0 851.2 L822.5 850.0 L825.0 847.5 L826.9 851.2 L828.8 853.1 L830.6 853.8 L833.1 852.5 L836.2 852.5 L838.8 853.1 L841.2 853.8 L843.8 853.1 L846.2 852.5 L848.8 851.9 L850.6 850.0 L851.5 845.0 L852.2 837.5 L853.1 832.5 L855.0 831.2 L856.9 831.2 L858.5 830.0 L859.4 823.8 L861.2 821.9 L865.0 821.2 L866.9 819.4 L868.8 818.1 L870.6 817.5 L872.5 819.4 L874.4 820.0 L876.2 821.2 L877.5 825.0 L879.4 828.1 L881.2 826.9 L883.1 820.0 L884.4 815.6 L886.2 813.1 L888.1 812.5 L890.0 815.6 L891.9 818.1 L893.8 820.0 L896.0 820.0 L896.0 819.4 L897.9 818.8 L899.1 823.8 L901.0 825.0 L902.9 828.8 L904.1 835.0 L905.8 835.6 L907.0 825.0 L907.9 812.5 L909.5 813.8 L910.8 800.0 L912.2 798.8 L913.8 795.6 L915.4 796.2 L916.6 798.1 L918.2 796.2 L919.8 799.4 L921.6 800.6 L922.9 795.6 L925.0 794.4 L927.2 795.0 L929.1 796.9 L931.0 797.5 L932.5 794.4 L933.5 787.5 L935.4 784.4 L937.9 784.4 L940.4 784.8 L941.6 785.0 L942.5 792.5 L943.2 800.6 L945.0 799.4 L947.2 797.5 L948.5 792.5 L949.8 788.8 L951.6 790.6 L953.2 796.2 L954.8 791.2 L956.2 788.8 L957.9 792.5 L959.1 797.5 L961.0 799.4 L962.9 802.5 L965.4 801.2 L967.2 799.4 L969.8 801.2 L972.2 801.9 L974.5 805.0 L976.6 802.5 L977.9 796.2 L979.8 798.1 L981.6 800.6 L983.5 801.9 L984.8 808.1 L986.2 802.5 L987.9 805.0 L989.8 806.2 L992.0 808.8 L993.5 811.2 L995.0 808.8 L996.6 805.0 L997.9 803.8 L998.8 795.0 L999.5 787.5 L1001.0 783.8 L1002.9 782.5 L1004.8 783.8 L1006.6 783.1 L1008.5 783.8 L1010.0 782.5 L1011.6 780.0 L1012.9 783.8 L1014.1 786.2 L1016.0 785.0 L1017.9 784.4 L1019.1 782.5 L1020.0 778.8 L1021.2 782.5 L1022.9 785.0 L1024.8 786.2 L1026.6 787.5 L1028.5 786.9 L1030.4 789.4 L1031.6 790.6 L1033.5 790.0 L1036.0 789.4 L1038.5 787.5 L1041.0 790.6 L1043.5 790.0 L1044.8 787.5 L1047.2 788.8 L1049.8 789.4 L1051.6 790.6 L1052.9 797.5 L1053.5 805.6 L1056.0 806.2 L1058.5 806.9 L1060.4 805.0 L1062.2 806.2 L1063.5 798.8 L1064.8 798.1 L1066.0 805.0 L1067.9 807.5 L1069.8 806.9 L1071.6 805.6 L1073.5 808.1 L1075.4 811.2 L1076.6 806.9 L1077.9 805.0 L1079.8 803.8 L1081.6 802.5 L1083.5 800.6 L1085.4 802.5 L1087.2 804.4 L1089.8 805.0 L1091.6 803.1 L1093.5 800.6 L1095.4 798.1 L1097.2 796.2 L1099.8 795.6 L1101.6 796.9 L1103.2 801.2 L1105.0 802.5 L1107.0 801.9 L1108.5 796.2 L1110.4 791.2 L1112.2 786.9 L1114.1 785.0 L1115.0 773.8 L1116.0 764.4 L1117.9 765.0 L1119.8 763.8 L1121.6 761.9 L1122.9 759.4 L1124.1 761.2 L1126.0 760.0 L1128.5 758.8 L1129.8 753.8 L1131.0 749.4 L1132.9 750.6 L1134.1 755.0 L1135.4 758.1 L1136.6 746.2 L1137.9 750.6 L1139.8 751.9 L1141.6 755.6 L1142.9 751.2 L1144.1 747.5 L1146.0 748.8 L1147.9 747.5 L1149.8 746.9 L1151.0 737.5 L1151.9 730.6 L1152.0 740.0 L1153.2 726.2 L1154.5 715.6 L1156.4 715.0 L1158.0 715.0 L1159.2 722.5 L1160.5 730.0 L1162.0 721.2 L1163.5 721.9 L1165.1 728.8 L1166.8 722.5 L1168.2 718.8 L1170.1 715.6 L1172.0 717.5 L1173.9 719.4 L1175.8 722.5 L1177.6 725.6 L1178.9 717.5 L1180.5 710.6 L1182.0 718.8 L1183.9 715.0 L1185.1 701.2 L1187.0 703.1 L1188.9 704.4 L1190.1 713.8 L1191.0 722.5 L1192.6 726.2 L1193.9 721.2 L1195.1 727.5 L1196.4 729.4 L1198.2 727.5 L1199.2 738.8 L1201.0 736.9 L1202.6 726.9 L1204.5 723.8 L1205.8 719.4 L1207.6 720.0 L1209.5 721.2 L1211.4 721.9 L1212.6 722.5 L1213.9 710.0 L1215.1 698.8 L1216.4 696.2 L1217.6 688.8 L1218.2 686.2 L1219.5 676.2 L1221.4 674.4 L1223.2 675.6 L1225.1 676.2 L1226.4 674.4 L1227.6 680.0 L1228.9 681.9 L1230.5 677.5 L1231.4 665.0 L1232.0 652.5 L1232.6 637.5 L1233.2 623.1 L1235.1 625.0 L1236.4 621.2 L1237.6 615.0 L1238.2 593.8 L1240.1 593.8 L1241.4 592.5 L1242.6 590.0 L1243.9 576.2 L1245.1 573.8 L1246.4 570.0 L1247.6 576.2 L1248.2 595.0 L1249.2 610.0 L1250.8 595.0 L1251.8 626.2 L1253.0 615.0 L1254.5 617.5 L1255.8 608.8 L1256.8 586.2 L1258.0 583.8 L1259.5 583.1 L1260.8 581.2 L1262.2 578.1 L1263.2 590.0 L1264.5 608.1 L1266.0 602.5 L1267.6 590.0 L1268.9 583.8 L1269.8 577.5 L1271.0 582.5 L1272.6 584.4 L1273.9 590.0 L1275.1 602.5 L1276.4 613.8 L1277.6 620.0 L1278.5 628.8 L1280.1 617.5 L1281.4 610.0 L1282.6 601.2 L1283.9 606.2 L1285.1 611.2 L1287.0 615.0 L1288.9 618.8 L1290.1 635.0 L1291.4 645.0 L1292.6 637.5 L1293.9 625.0 L1295.1 615.6 L1296.4 621.2 L1297.6 627.5 L1299.5 631.2 L1300.8 632.5 L1302.6 626.2 L1303.9 605.0 L1305.8 602.5 L1307.6 600.6 L1308.5 590.0 L1309.2 578.1 L1310.8 595.0 L1312.6 590.0 L1313.9 588.8 L1315.8 588.1 L1317.0 596.2 L1318.9 597.5 L1320.8 596.2 L1322.0 590.0 L1323.0 579.4 L1324.5 582.5 L1325.8 588.1 L1327.0 587.5 L1328.5 588.8 L1329.5 593.8 L1330.8 600.0 L1332.0 603.8 L1333.9 602.5 L1335.1 603.8 L1336.4 608.8 L1338.2 613.8 L1339.8 617.5 L1340.8 627.5 L1341.8 634.4 L1343.2 632.5 L1345.1 633.1 L1346.4 623.8 L1348.0 621.2 L1349.5 630.0 L1350.8 643.8 L1352.0 651.2 L1353.0 656.9 L1354.5 651.2 L1356.4 648.8 L1358.2 646.2 L1359.5 635.0 L1360.8 612.5 L1362.6 610.0 L1363.9 613.8 L1365.1 598.8 L1366.0 595.0 L1367.0 600.0 L1368.9 607.5 L1370.5 605.0 L1371.8 594.4 L1373.0 598.8 L1374.5 605.0 L1376.4 610.0 L1377.6 621.2 L1378.5 640.0 L1379.2 656.2 L1379.8 666.2 L1381.8 660.0 L1383.0 648.8 L1383.0 626.2 L1384.5 630.0 L1386.4 632.5 L1387.6 638.8 L1388.9 647.5 L1390.1 645.0 L1392.0 641.2 L1393.9 637.5 L1395.8 630.0 L1397.2 615.0 L1398.9 613.8 L1400.1 625.0 L1400.8 638.8 L1402.0 640.0 L1403.9 641.2 L1405.1 647.5 L1407.0 656.2 L1407.9 665.0 L1408.0 665.0 L1409.9 666.2 L1411.8 660.0 L1413.0 651.2 L1414.9 646.2 L1416.1 633.8 L1417.8 636.2 L1419.2 645.0 L1420.5 626.2 L1421.5 621.2 L1423.6 618.8 L1425.5 617.5 L1427.0 620.0 L1427.8 610.0 L1429.2 606.2 L1430.8 606.9 L1432.0 620.0 L1433.6 633.8 L1434.9 630.0 L1436.8 621.2 L1438.0 623.8 L1439.2 622.5 L1441.1 634.4 L1442.4 627.5 L1443.6 620.0 L1444.5 610.0 L1445.5 601.2 L1447.0 598.8 L1448.2 593.8 L1449.9 591.2 L1451.1 598.1 L1453.0 597.5 L1454.9 603.1 L1456.5 595.0 L1457.4 582.5 L1459.0 572.5 L1460.5 577.5 L1461.8 585.0 L1463.0 591.2 L1464.2 596.9 L1465.2 587.5 L1465.8 571.2 L1466.5 557.5 L1468.0 555.0 L1469.5 551.9 L1469.8 540.0 L1469.9 512.5 L1470.1 491.2 L1471.8 482.5 L1473.0 490.0 L1474.0 498.8 L1475.5 481.2 L1476.8 485.0 L1478.0 475.0 L1479.0 460.0 L1479.9 442.5 L1481.1 440.0 L1482.4 446.2 L1483.6 467.5 L1484.5 475.0 L1485.8 457.5 L1487.0 447.5 L1488.6 450.0 L1489.9 455.6 L1491.1 441.2 L1492.4 443.1 L1493.6 436.2 L1494.9 431.2 L1496.1 428.1 L1497.0 451.2 L1498.2 430.0 L1499.9 433.8 L1501.1 426.2 L1502.4 412.5 L1503.6 405.0 L1504.5 428.8 L1505.5 442.5 L1506.8 446.2 L1508.0 452.5 L1509.0 460.0 L1510.2 450.0 L1511.1 437.5 L1512.4 455.0 L1513.6 461.2 L1514.9 465.0 L1516.1 471.9 L1517.8 467.5 L1518.6 446.2 L1519.9 443.8 L1521.1 442.5 L1522.0 431.2 L1523.0 423.8 L1524.0 448.8 L1524.9 472.5 L1526.1 462.5 L1527.4 463.8 L1529.2 463.1 L1530.5 447.5 L1531.5 425.0 L1532.4 413.8 L1533.6 412.5 L1534.9 425.6 L1535.8 411.2 L1536.8 403.1 L1537.8 416.2 L1539.2 411.2 L1540.5 421.2 L1541.8 426.2 L1543.0 428.1 L1544.2 415.0 L1545.2 411.2 L1546.1 428.8 L1547.4 447.5 L1548.6 428.8 L1549.9 448.8 L1551.5 451.2 L1553.0 452.5 L1554.2 447.5 L1555.5 455.6 L1556.8 445.6 L1558.0 446.2 L1559.2 450.0 L1560.5 453.8 L1562.0 456.9 L1563.2 448.8 L1564.2 443.1 L1565.5 448.8 L1566.8 455.0 L1567.8 470.0 L1568.6 491.2 L1569.5 515.0 L1571.1 513.1 L1572.0 495.0 L1572.8 463.1 L1573.6 497.5 L1574.9 506.2 L1575.5 481.2 L1577.0 483.8 L1578.2 501.2 L1579.5 503.8 L1580.2 542.5 L1581.1 517.5 L1582.4 530.0 L1583.6 520.0 L1585.5 513.8 L1587.4 521.9 L1588.2 500.0 L1589.2 497.5 L1591.1 515.0 L1592.4 511.2 L1593.2 497.5 L1594.5 496.9 L1596.1 498.8 L1597.4 508.8 L1598.6 522.5 L1600.5 510.0 L1601.8 522.5 L1603.0 515.0 L1604.2 517.5 L1605.5 525.0 L1606.5 543.8 L1607.0 553.8 L1608.6 536.2 L1609.9 520.0 L1611.1 509.4 L1612.4 516.2 L1614.2 511.9 L1616.1 510.6 L1618.0 508.8 L1619.2 487.5 L1620.2 467.5 L1622.0 462.5 L1623.6 461.2 L1625.5 466.2 L1627.4 453.8 L1629.2 450.0 L1630.5 463.8 L1632.4 461.2 L1633.6 450.0 L1634.5 418.8 L1636.1 411.2 L1637.8 416.2 L1639.2 420.6 L1641.1 415.6 L1643.0 418.8 L1644.2 405.0 L1645.5 400.0 L1645.9 406.2 L1647.1 395.0 L1648.0 382.5 L1648.8 375.6 L1649.6 397.5 L1651.2 387.5 L1652.8 388.8 L1654.0 395.0 L1655.2 406.2 L1656.2 414.4 L1657.8 405.0 L1659.2 407.5 L1660.5 417.5 L1661.5 427.5 L1662.8 410.0 L1664.0 390.0 L1665.2 382.5 L1666.5 388.8 L1667.8 405.0 L1669.2 402.5 L1670.9 400.6 L1672.1 410.0 L1673.8 411.2 L1675.2 418.8 L1676.5 429.4 L1677.8 410.0 L1679.0 397.5 L1680.9 398.8 L1682.5 395.0 L1683.8 393.1 L1685.0 406.2 L1685.9 390.0 L1687.1 386.2 L1688.4 392.5 L1690.0 393.1 L1691.5 390.0 L1692.5 375.0 L1693.0 358.8 L1693.8 350.0 L1695.2 346.2 L1696.8 335.0 L1698.0 336.2 L1699.2 338.8 L1700.5 343.8 L1702.1 348.1 L1703.4 334.4 L1704.6 341.2 L1705.9 346.2 L1707.5 345.0 L1709.2 337.5 L1710.5 341.2 L1711.8 346.2 L1712.8 357.5 L1713.8 367.5 L1715.0 371.9 L1716.2 363.8 L1717.5 363.8 L1718.8 355.0 L1719.6 347.5 L1720.9 351.2 L1722.1 345.0 L1723.0 338.8 L1724.0 335.0 L1724.6 325.0 L1725.5 318.8 L1726.2 342.5 L1727.1 347.5 L1729.0 348.1 L1730.0 360.0 L1730.9 371.2 L1732.1 350.0 L1733.4 351.2 L1734.2 365.0 L1735.2 372.5 L1736.2 382.5 L1737.5 377.5 L1739.0 371.9 L1740.0 393.1 L1741.5 392.5 L1742.8 382.5 L1744.2 376.2 L1745.9 377.5 L1747.1 383.1 L1748.4 377.5 L1750.0 376.2 L1751.2 362.5 L1752.1 357.5 L1753.4 355.0 L1754.6 357.5 L1756.2 351.2 L1758.0 349.4 L1759.2 355.0 L1760.9 362.5 L1762.1 372.5 L1763.8 380.0 L1764.6 390.0 L1765.9 370.0 L1766.8 386.2 L1767.8 370.0 L1769.0 358.8 L1770.0 341.2 L1771.2 325.0 L1772.8 318.8 L1774.0 310.6 L1775.2 325.0 L1776.2 316.9 L1777.5 331.2 L1778.4 357.5 L1779.2 380.0 L1780.5 358.8 L1781.8 370.0 L1783.0 386.2 L1784.0 395.0 L1785.0 402.5 L1786.5 390.0 L1787.5 381.9 L1788.8 397.5 L1790.0 390.0 L1791.5 380.0 L1793.0 367.5 L1794.0 361.9 L1795.0 370.0 L1795.9 383.8 L1796.8 392.5 L1798.4 386.2 L1800.0 381.2 L1800.9 400.0 L1801.5 427.5 L1803.4 428.1 L1804.6 420.0 L1805.9 413.8 L1807.1 405.0 L1808.0 412.5 L1809.0 425.0 L1810.2 437.5 L1810.2 460.0 L1811.9 458.8 L1813.1 466.2 L1813.8 473.8 L1815.0 471.2 L1815.6 487.5 L1816.5 502.5 L1817.5 510.0 L1818.8 511.2 L1819.8 500.0 L1821.2 498.8 L1822.2 487.5 L1823.1 478.8 L1824.4 482.5 L1825.6 493.8 L1826.5 503.8 L1827.5 487.5 L1828.5 468.1 L1829.8 487.5 L1831.2 486.2 L1832.5 481.2 L1833.8 471.9 L1835.6 471.9 L1836.9 480.0 L1838.1 491.2 L1839.0 502.5 L1840.6 498.8 L1841.9 501.2 L1843.1 506.9 L1844.0 495.0 L1845.6 492.5 L1847.5 496.2 L1849.4 498.1 L1851.9 499.4 L1853.8 497.5 L1855.0 496.2 L1856.0 487.5 L1856.9 480.0 L1858.1 466.2 L1859.4 465.0 L1860.2 470.0 L1861.2 480.0 L1863.1 482.5 L1864.8 481.9 L1865.6 470.0 L1866.5 452.5 L1867.5 450.6 L1868.8 456.2 L1870.2 458.8 L1871.2 470.0 L1872.5 493.1 L1874.0 487.5 L1875.6 490.0 L1876.5 492.5 L1877.5 501.9 L1878.5 496.2 L1879.4 488.8 L1880.2 498.8 L1881.2 510.0 L1882.5 515.0 L1883.5 525.0 L1884.4 537.5 L1885.0 552.5 L1886.2 567.5 L1886.9 582.5 L1887.2 605.0 L1887.5 621.9 L1888.8 607.5 L1889.4 595.0 L1889.8 581.9 L1891.2 583.1 L1892.5 595.0 L1893.8 604.4 L1895.0 592.5 L1896.2 585.6 L1897.5 592.5 L1898.8 600.0 L1899.8 603.8 L1901.0 596.2 L1902.5 595.6 L1903.8 610.0 L1905.0 615.6 L1906.2 610.0 L1906.9 597.5 L1908.1 607.5 L1910.0 606.2 L1911.0 590.0 L1911.9 571.9 L1913.1 580.0 L1914.4 593.8 L1916.2 605.6 L1917.5 596.2 L1918.8 585.0 L1920.6 580.0 L1921.9 576.2 L1923.1 562.5 L1924.0 560.6 L1925.2 566.2 L1926.2 577.5 L1927.5 587.5 L1929.0 596.9 L1930.0 590.0 L1931.0 581.2 L1932.5 579.4" fill="none" stroke="#000" stroke-width="3.5" stroke-linejoin="round" stroke-linecap="round"/>
<rect x="656.6" y="818.7" width="207" height="38.7" fill="none" stroke="#ff3000" stroke-width="2.8"/>
<text x="655.6" y="884.6" font-family="'Liberation Sans',sans-serif" font-size="14.5" font-weight="700" fill="#ff3000" textLength="193.5" lengthAdjust="spacingAndGlyphs">BTC price bottom formation</text>
<text y="83.1" font-family="'Liberation Sans',sans-serif" font-size="38.2" fill="#000"><tspan x="50.75" textLength="87.15" lengthAdjust="spacingAndGlyphs">BTC:</tspan> <tspan x="147.30" textLength="153.80" lengthAdjust="spacingAndGlyphs">Realized</tspan> <tspan x="311.85" textLength="93.55" lengthAdjust="spacingAndGlyphs">Price</tspan> <tspan x="415.15" textLength="44.80" lengthAdjust="spacingAndGlyphs">by</tspan> <tspan x="471.60" textLength="72.06" lengthAdjust="spacingAndGlyphs">Age</tspan></text>
<g font-family="'Liberation Sans',sans-serif" font-size="16.3" fill="#111" stroke="#111" stroke-width="0.3">
<circle cx="66.6" cy="135.6" r="5.2" fill="#5f4fae"/>
<text x="75.80" y="139.4" textLength="35.30" lengthAdjust="spacingAndGlyphs">>10y</text>
<circle cx="137.1" cy="135.6" r="5.2" fill="#f79a54"/>
<text x="148.20" y="139.4" textLength="48.90" lengthAdjust="spacingAndGlyphs">1m-3m</text>
<circle cx="222.6" cy="135.6" r="5.2" fill="#ec6044"/>
<text x="233.20" y="139.4" textLength="47.85" lengthAdjust="spacingAndGlyphs">1w-1m</text>
<circle cx="303.4" cy="135.6" r="5.2" fill="#444b5a"/>
<text x="314.20" y="139.4" textLength="80.05" lengthAdjust="spacingAndGlyphs">Aggregated</text>
<circle cx="425" cy="135.6" r="5.2" fill="#000"/>
<text x="434.95" y="139.4" textLength="118.75" lengthAdjust="spacingAndGlyphs">BTC: Price [USD]</text>
</g>
<text y="1100.6" font-family="'Liberation Sans',sans-serif" font-size="25.6" fill="#808080" stroke="#808080" stroke-width="0.45"><tspan x="52.84" textLength="20.15" lengthAdjust="spacingAndGlyphs">©</tspan> <tspan x="81.82" textLength="62.92" lengthAdjust="spacingAndGlyphs">2026</tspan> <tspan x="152.30" textLength="135.70" lengthAdjust="spacingAndGlyphs">Glassnode.</tspan> <tspan x="294.52" textLength="30.24" lengthAdjust="spacingAndGlyphs">All</tspan> <tspan x="331.75" textLength="75.50" lengthAdjust="spacingAndGlyphs">Rights</tspan> <tspan x="414.25" textLength="122.50" lengthAdjust="spacingAndGlyphs">Reserved.</tspan></text>
<text y="1108.60" font-family="'Liberation Sans',sans-serif" font-size="54.00" fill="#1a1a1a" stroke="#1a1a1a" stroke-width="0.90" stroke-linejoin="round"><tspan x="1741.88" textLength="35.06" lengthAdjust="spacingAndGlyphs">g</tspan><tspan x="1775.92" textLength="12.32" lengthAdjust="spacingAndGlyphs">l</tspan><tspan x="1788.27" textLength="29.78" lengthAdjust="spacingAndGlyphs">a</tspan><tspan x="1821.70" textLength="23.19" lengthAdjust="spacingAndGlyphs">s</tspan><tspan x="1844.69" textLength="23.41" lengthAdjust="spacingAndGlyphs">s</tspan><tspan x="1868.08" textLength="30.86" lengthAdjust="spacingAndGlyphs">n</tspan><tspan x="1897.70" textLength="32.99" lengthAdjust="spacingAndGlyphs">o</tspan><tspan x="1929.81" textLength="34.58" lengthAdjust="spacingAndGlyphs">d</tspan><tspan x="1962.78" textLength="32.85" lengthAdjust="spacingAndGlyphs">e</tspan></text>
</svg>
</body></html>
